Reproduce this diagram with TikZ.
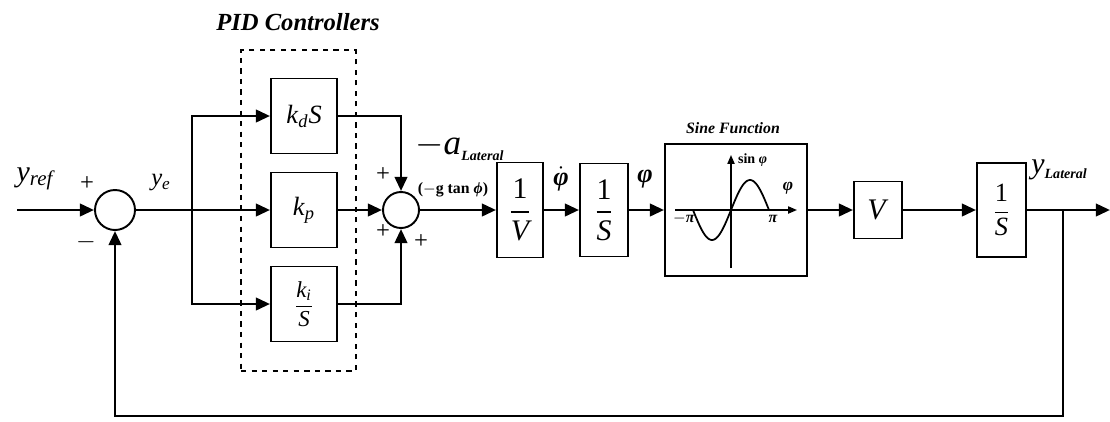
\documentclass[tikz,border=0pt]{standalone}
\usepackage{amsmath}
\usepackage{fontspec}
\setmainfont{Liberation Serif}
\usetikzlibrary{arrows.meta,positioning,calc}

\newcommand{\latsub}{\raisebox{-0.35ex}{\bfseries\itshape\fontsize{8}{8}\selectfont Lateral}}

\begin{document}
\begin{tikzpicture}[
  blk/.style={rectangle, draw, line width=1.1pt, inner sep=0pt},
  sum/.style={circle, draw, line width=1.1pt, minimum size=#1, inner sep=0pt},
  sig/.style={-{Triangle[length=8pt,width=7pt]}, line width=1.6pt},
  wire/.style={line width=1.6pt},
  lbl/.style={inner sep=0pt, font=\fontsize{12}{14}\selectfont},
  title/.style={font=\bfseries\itshape\fontsize{#1}{#1}\selectfont}
]
  \useasboundingbox (0,4.2) rectangle (22.2,-4.22);

  % summing junctions
  \node[sum=0.8cm] (S1) at (2.30,0) {};
  \node[sum=0.72cm] (S2) at (8.02,0) {};

  % PID controllers
  \node[draw, dashed, line width=0.8pt, minimum width=2.3cm,
        minimum height=6.42cm] (PID) at (5.97,-0.01) {};
  \node[title=14] at (5.96,3.76) {PID Controllers};
  \node[blk, minimum width=1.32cm, minimum height=1.5cm] (Kd) at (6.08,1.88)
    {\fontsize{15}{16}\selectfont\textit{k}$_{\textit{d}}$\textit{S}};
  \node[blk, minimum width=1.32cm, minimum height=1.5cm] (Kp) at (6.08,0)
    {\fontsize{15}{16}\selectfont\textit{k}$_{\textit{p}}$};
  \node[blk, minimum width=1.32cm, minimum height=1.5cm] (Ki) at (6.08,-1.88)
    {\fontsize{13}{14}\selectfont$\dfrac{\textit{k}_{\textit{i}}}{\textit{S}}$};

  % plant
  \node[blk, minimum width=0.92cm, minimum height=1.9cm] (InvV) at (10.40,0)
    {\fontsize{17}{20}\selectfont$\dfrac{\text{1}}{\textit{V}}$};
  \node[blk, minimum width=0.96cm, minimum height=1.86cm] (Int1) at (12.08,0)
    {\fontsize{17}{20}\selectfont$\dfrac{\text{1}}{\textit{S}}$};
  \node[blk, minimum width=2.84cm, minimum height=2.64cm] (Sine) at (14.72,0) {};
  \node[title=9] at (14.66,1.64) {Sine Function};
  \node[blk, minimum width=0.96cm, minimum height=1.14cm] (Vel) at (17.56,0)
    {\fontsize{17}{20}\selectfont\textit{V}};
  \node[blk, minimum width=0.98cm, minimum height=1.88cm] (Int2) at (20.03,0)
    {\fontsize{15}{18}\selectfont$\dfrac{\text{1}}{\textit{S}}$};

  % sine sketch
  \draw[-{Triangle[length=5pt,width=4pt]}, line width=0.9pt] (13.50,0) -- (15.94,0);
  \draw[-{Triangle[length=5pt,width=4pt]}, line width=0.9pt] (14.62,-1.16) -- (14.62,1.10);
  \draw[line width=1pt] plot[domain=-180:180, samples=61]
    ({14.62+0.76*\x/180},{0.6*sin(\x)});
  \node[font=\bfseries\fontsize{8}{9}\selectfont] at (15.05,1.0) {sin \textit{φ}};
  \node[font=\bfseries\fontsize{10}{11}\selectfont] at (15.76,0.44) {\textit{φ}};
  \node[font=\bfseries\fontsize{9}{10}\selectfont] at (13.68,-0.18) {$-$\textit{π}};
  \node[font=\bfseries\fontsize{9}{10}\selectfont] at (15.46,-0.18) {\textit{π}};

  % signal labels
  \node[lbl, font=\fontsize{17}{18}\selectfont] at (0.70,0.62)
    {\textit{y}$_{\textit{ref}}$};
  \node[lbl, font=\fontsize{14}{14}\selectfont] at (1.74,0.52) {+};
  \node[lbl, font=\fontsize{14}{14}\selectfont] at (1.72,-0.64) {$-$};
  \node[lbl, font=\fontsize{14}{16}\selectfont] at (3.22,0.54)
    {\textit{y}$_{\textit{e}}$};
  \node[lbl, font=\fontsize{14}{14}\selectfont] at (7.66,0.70) {+};
  \node[lbl, font=\fontsize{14}{14}\selectfont] at (7.66,-0.44) {+};
  \node[lbl, font=\fontsize{14}{14}\selectfont] at (8.42,-0.64) {+};
  \node[lbl, anchor=west, font=\fontsize{20}{20}\selectfont] at (8.30,1.26)
    {$-$\textit{a}\latsub};
  \node[lbl, font=\bfseries\fontsize{9}{10}\selectfont] at (9.06,0.40)
    {($-$g tan \textit{ϕ})};
  \node[lbl, font=\bfseries\fontsize{15}{16}\selectfont] at (11.22,0.62)
    {$\dot{\text{\textit{φ}}}$};
  \node[lbl, font=\bfseries\fontsize{15}{16}\selectfont] at (12.90,0.62)
    {\textit{φ}};
  \node[lbl, anchor=west, font=\fontsize{17}{17}\selectfont] at (20.62,0.80)
    {\textit{y}\latsub};

  % connectors
  \coordinate (in) at (0.34,0);
  \coordinate (br) at (3.84,0);
  \coordinate (out) at (22.2,0);
  \coordinate (fb) at (21.26,0);
  \coordinate (bot) at (2.30,-4.12);
  \draw[sig] (in) -- (S1.west);
  \draw[sig] (S1.east) -- (Kp.west);
  \draw[wire] (br |- Kd.west) -- (br |- Ki.west);
  \draw[sig] (br) |- (Kd.west);
  \draw[sig] (br) |- (Ki.west);
  \draw[sig] (Kd.east) -| (S2.north);
  \draw[sig] (Kp.east) -- (S2.west);
  \draw[sig] (Ki.east) -| (S2.south);
  \draw[sig] (S2.east) -- (InvV.west);
  \draw[sig] (InvV.east) -- (Int1.west);
  \draw[sig] (Int1.east) -- (Sine.west);
  \draw[sig] (Sine.east) -- (Vel.west);
  \draw[sig] (Vel.east) -- (Int2.west);
  \draw[sig] (Int2.east) -- (out);
  \draw[sig] (fb) |- (bot) -- (S1.south);
\end{tikzpicture}
\end{document}
